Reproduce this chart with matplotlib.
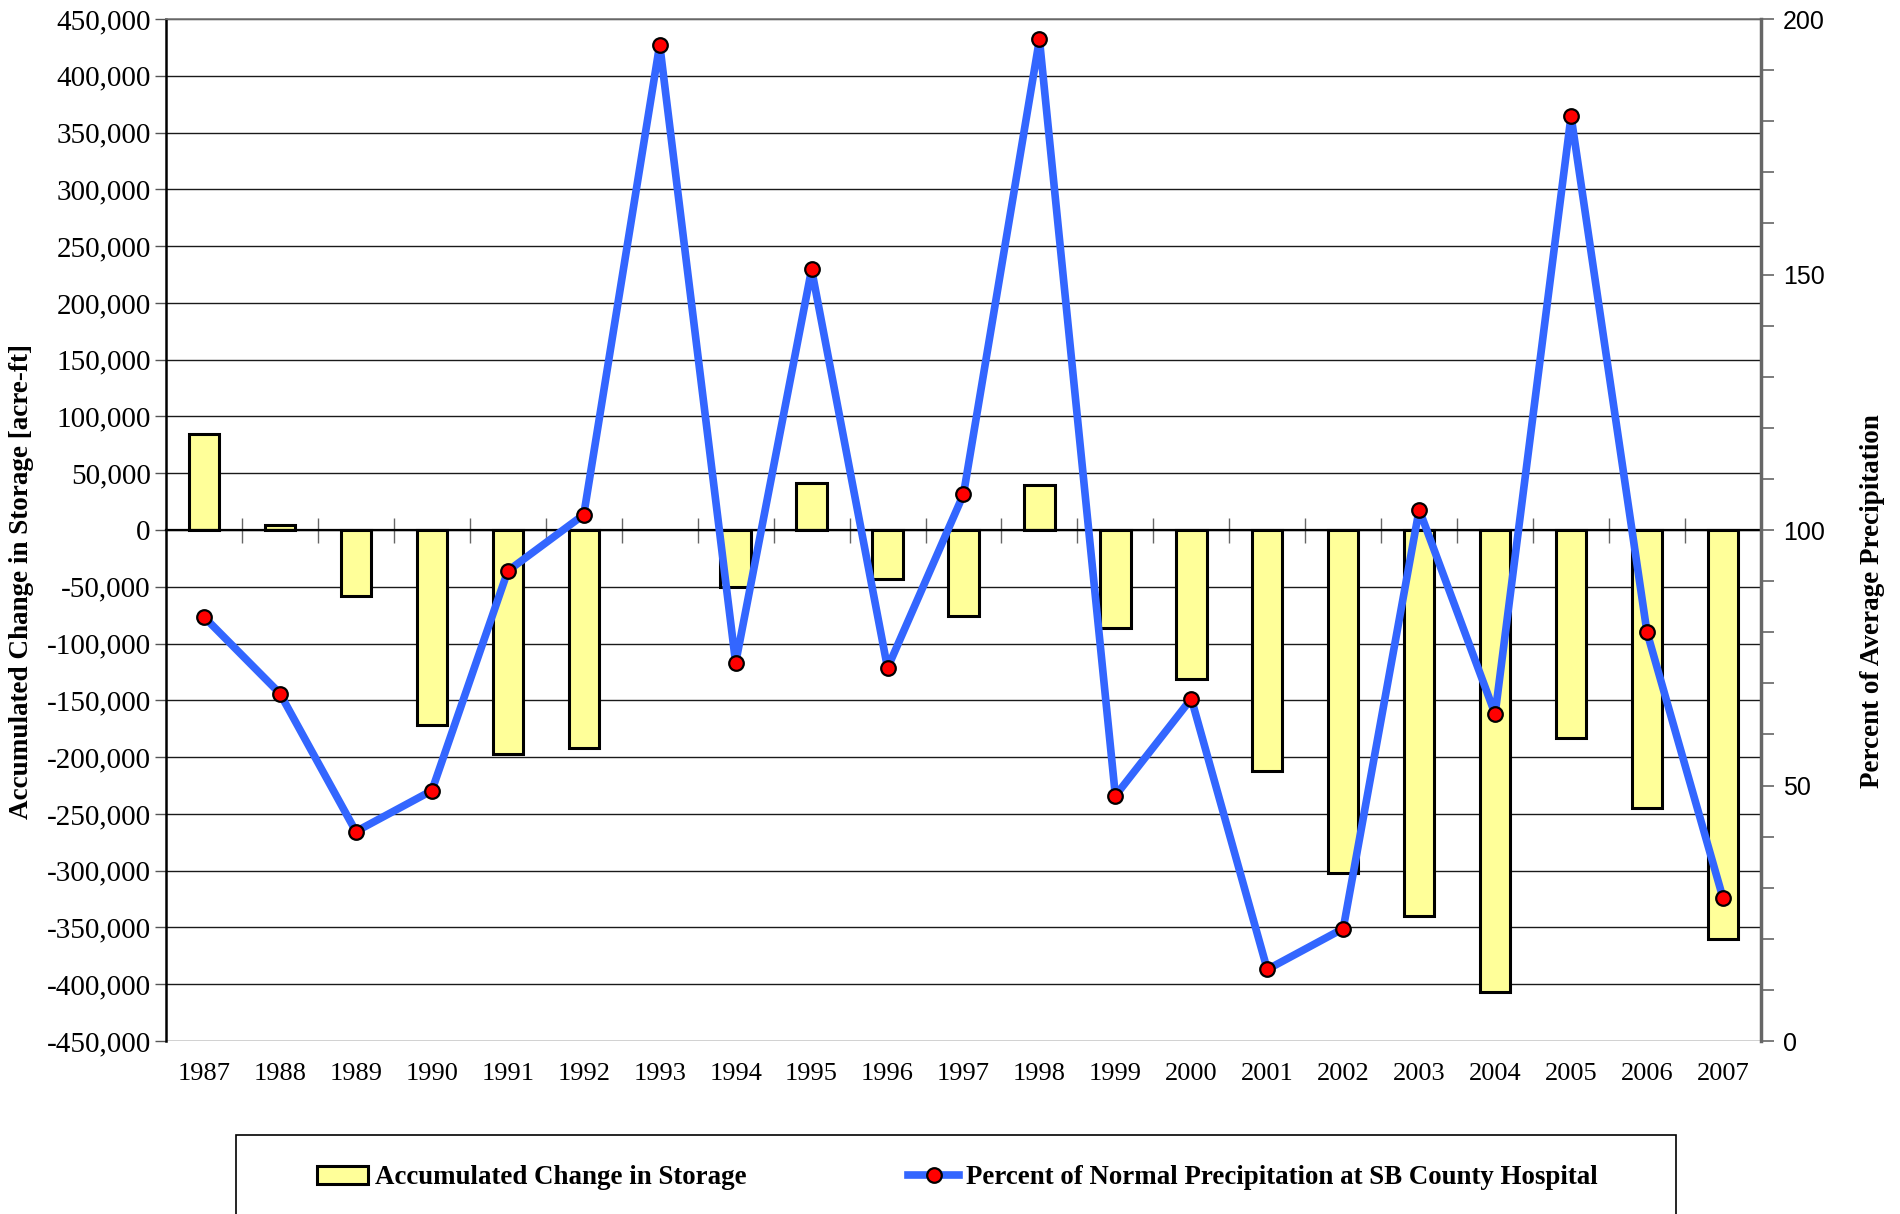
import numpy as np
import matplotlib
matplotlib.use("Agg")
import matplotlib.pyplot as plt
from matplotlib.ticker import FuncFormatter, MultipleLocator
from matplotlib.lines import Line2D
from matplotlib.patches import Patch, Rectangle

years = [1987, 1988, 1989, 1990, 1991, 1992, 1993, 1994, 1995, 1996, 1997,
         1998, 1999, 2000, 2001, 2002, 2003, 2004, 2005, 2006, 2007]
# 1993 has no bar in the original chart
storage = [85000, 4500, -58000, -172000, -197000, -192000, np.nan, -50000, 41000,
           -43000, -76000, 40000, -86000, -131000, -212000, -302000, -340000,
           -407000, -183000, -245000, -360000]
precip = [83, 68, 41, 49, 92, 103, 195, 74, 151, 73, 107,
          196, 48, 67, 14, 22, 104, 64, 181, 80, 28]

SERIF = "Liberation Serif"
SANS = "Liberation Sans"

fig = plt.figure(figsize=(19, 12.14), dpi=100)
ax = fig.add_axes([0.0874, 0.1425, 0.8394, 0.8418])
x = np.arange(len(years))

# --- bars (left axis) ---
ax.bar(x, storage, width=0.4, color="#ffff99", edgecolor="black", lw=2.2, zorder=2)
ax.set_ylim(-450000, 450000)
ax.set_xlim(-0.5, len(years) - 0.5)
ax.yaxis.set_major_locator(MultipleLocator(50000))
ax.yaxis.set_major_formatter(FuncFormatter(lambda v, p: f"{int(v):,}"))
ax.grid(axis="y", color="#1a1a1a", lw=1.0, zorder=0)
ax.set_axisbelow(True)
for lbl in ax.get_yticklabels():
    lbl.set_fontfamily(SERIF)
ax.tick_params(axis="y", labelsize=21, length=8, width=1, color="#555555", pad=3)
ax.set_ylabel("Accumulated Change in Storage [acre-ft]", fontfamily=SERIF,
              fontweight="bold", fontsize=19.5)
ax.yaxis.set_label_coords(-0.083, 0.45)

# x axis crossing at zero, ticks between categories
ax.spines["bottom"].set_position(("data", 0))
ax.spines["bottom"].set_linewidth(1.6)
ax.spines["left"].set_linewidth(1.8)
ax.spines["top"].set_color("#777777")
ax.spines["top"].set_linewidth(1.2)
ax.spines["right"].set_visible(False)
ax.set_xticks(x[:-1] + 0.5)
ax.set_xticklabels([])
ax.tick_params(axis="x", direction="inout", length=18, width=1, color="#666666")

sec = ax.secondary_xaxis(0.0)
sec.set_xticks(x, [str(y) for y in years])
sec.tick_params(length=0, pad=16, labelsize=19)
for lbl in sec.get_xticklabels():
    lbl.set_fontfamily(SERIF)
sec.spines["bottom"].set_visible(False)

# --- precipitation line (right axis) ---
ax2 = ax.twinx()
ax2.plot(x, precip, color="#3366ff", lw=5.5, marker="o", ms=10.5,
         mfc="#ff0000", mec="black", mew=1.6, zorder=3)
ax2.set_ylim(0, 200)
ax2.yaxis.set_major_locator(MultipleLocator(50))
ax2.yaxis.set_minor_locator(MultipleLocator(10))
ax2.tick_params(axis="y", which="major", labelsize=18, length=9, width=1.2,
                color="#666666", pad=7)
ax2.tick_params(axis="y", which="minor", length=9, width=1.2, color="#666666")
for lbl in ax2.get_yticklabels():
    lbl.set_fontfamily(SANS)
for s in ["top", "bottom", "left"]:
    ax2.spines[s].set_visible(False)
ax2.spines["right"].set_color("#666666")
ax2.spines["right"].set_linewidth(2.5)
ax2.set_ylabel("Percent of Average Precipitation", fontfamily=SERIF,
               fontweight="bold", fontsize=19.5)
ax2.yaxis.set_label_coords(1.062, 0.43)

# --- legend: box runs off the bottom edge, as in the original ---
fig.patches.append(Rectangle((0.124, -0.05), 0.758, 0.115, transform=fig.transFigure,
                             facecolor="none", edgecolor="black", lw=1.2))
handles = [
    Patch(facecolor="#ffff99", edgecolor="black", lw=2.2,
          label="Accumulated Change in Storage"),
    Line2D([0], [0], color="#3366ff", lw=5.5, marker="o", ms=10.5, mfc="#ff0000",
           mec="black", mew=1.6, label="Percent of Normal Precipitation at SB County Hospital"),
]
fig.legend(handles=handles, loc="center left", ncol=2,
           bbox_to_anchor=(0.1668, 0.0297), frameon=False, borderpad=0,
           borderaxespad=0, prop={"family": SERIF, "weight": "bold", "size": 19.4},
           handlelength=1.9, handleheight=0.6, handletextpad=0.25,
           columnspacing=6.0)

fig.savefig("out.png", dpi=100)
